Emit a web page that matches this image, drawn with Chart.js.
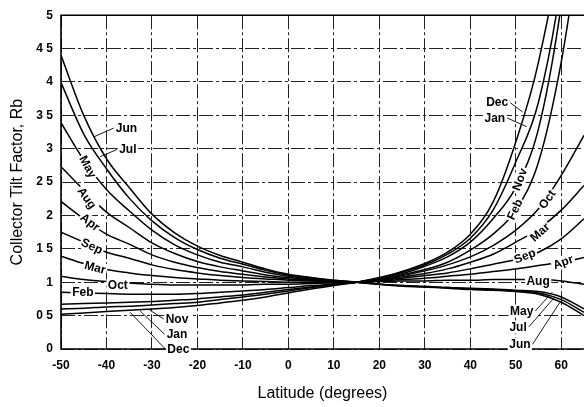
<!DOCTYPE html>
<html>
<head>
<meta charset="utf-8">
<script src="https://cdn.jsdelivr.net/npm/chart.js@4.4.1/dist/chart.umd.min.js"></script>
<style>
  html, body { margin: 0; padding: 0; background: #fff; }
  #wrap { width: 584px; height: 407px; }
</style>
</head>
<body>
<div id="wrap"><canvas id="tiltChart"></canvas></div>
<script>
// latitude grid the curves were read at (degrees)
var latitudes = [-50,-45,-40,-35,-30,-25,-20,-15,-10,-5,0,5,10,15,20,25,30,35,40,45,50,55,60,65];

// tilt factor Rb, one array per month
var rbJan = [0.60,0.61,0.63,0.64,0.66,0.68,0.70,0.74,0.78,0.82,0.87,0.92,0.96,1.00,1.06,1.15,1.26,1.42,1.66,2.08,2.80,3.70,5.50,8.50];
var rbFeb = [0.85,0.84,0.83,0.82,0.82,0.82,0.83,0.85,0.87,0.89,0.92,0.95,0.97,1.00,1.05,1.11,1.19,1.30,1.48,1.72,2.08,2.80,4.30,6.50];
var rbMar = [1.39,1.28,1.19,1.14,1.10,1.07,1.05,1.03,1.02,1.01,1.00,1.00,1.00,1.00,1.04,1.08,1.13,1.20,1.30,1.42,1.60,1.80,2.08,2.45];
var rbApr = [2.21,1.95,1.72,1.57,1.41,1.30,1.22,1.16,1.12,1.08,1.05,1.03,1.01,1.00,1.02,1.04,1.06,1.09,1.12,1.16,1.20,1.25,1.30,1.37];
var rbMay = [3.39,2.83,2.39,2.07,1.78,1.56,1.41,1.30,1.23,1.15,1.09,1.05,1.02,1.00,0.97,0.95,0.94,0.92,0.91,0.90,0.88,0.86,0.78,0.60];
var rbJun = [4.40,3.50,2.85,2.42,2.02,1.74,1.54,1.40,1.30,1.20,1.12,1.07,1.03,1.00,0.97,0.94,0.93,0.91,0.89,0.88,0.86,0.82,0.70,0.50];
var rbJul = [3.99,3.22,2.70,2.26,1.92,1.67,1.49,1.36,1.27,1.18,1.11,1.065,1.03,1.00,0.97,0.95,0.93,0.92,0.90,0.89,0.87,0.84,0.74,0.55];
var rbAug = [2.73,2.38,2.05,1.82,1.59,1.43,1.31,1.23,1.17,1.11,1.07,1.04,1.015,1.00,1.01,1.02,1.02,1.03,1.03,1.04,1.04,1.04,1.02,0.97];
var rbSep = [1.75,1.60,1.45,1.36,1.26,1.19,1.14,1.10,1.07,1.05,1.03,1.02,1.01,1.00,1.03,1.06,1.10,1.14,1.20,1.27,1.34,1.45,1.65,1.95];
var rbOct = [1.09,1.04,1.01,0.99,0.97,0.96,0.96,0.96,0.96,0.97,0.97,0.98,0.99,1.00,1.05,1.10,1.17,1.26,1.38,1.55,1.78,2.10,2.60,3.20];
var rbNov = [0.67,0.68,0.69,0.70,0.71,0.73,0.75,0.78,0.81,0.85,0.89,0.93,0.97,1.00,1.06,1.13,1.24,1.38,1.60,1.95,2.42,3.30,5.15,8.00];
var rbDec = [0.52,0.54,0.56,0.58,0.60,0.62,0.65,0.69,0.73,0.78,0.84,0.90,0.95,1.00,1.07,1.16,1.28,1.45,1.72,2.20,3.10,4.30,6.20,9.50];

var months = ['Jan','Feb','Mar','Apr','May','Jun','Jul','Aug','Sep','Oct','Nov','Dec'];
var rbByMonth = [rbJan, rbFeb, rbMar, rbApr, rbMay, rbJun, rbJul, rbAug, rbSep, rbOct, rbNov, rbDec];

var xTicks = [-50,-40,-30,-20,-10,0,10,20,30,40,50,60];
var yTickLabels = ['0','0 5','1','1 5','2','2 5','3','3 5','4','4 5','5'];

// month names written on / next to the curves (lat, Rb, rotation, optional leader target)
var curveLabels = [
  {text:'Jun', lat:-35.6, rb:3.31, angle:0,  to:[-42.7,3.18]},
  {text:'Jul', lat:-35.3, rb:2.99, angle:0,  to:[-41.4,2.88]},
  {text:'May', lat:-44.1, rb:2.73, angle:62},
  {text:'Aug', lat:-44.3, rb:2.26, angle:55},
  {text:'Apr', lat:-43.6, rb:1.90, angle:38},
  {text:'Sep', lat:-43.2, rb:1.54, angle:25},
  {text:'Mar', lat:-42.5, rb:1.22, angle:15},
  {text:'Oct', lat:-37.5, rb:0.95, angle:0},
  {text:'Feb', lat:-45.2, rb:0.85, angle:0},
  {text:'Nov', lat:-24.5, rb:0.45, angle:0,  to:[-30.4,0.58]},
  {text:'Jan', lat:-24.5, rb:0.22, angle:0,  to:[-32.6,0.57]},
  {text:'Dec', lat:-24.2, rb:0.00, angle:0,  to:[-34.8,0.55]},
  {text:'Dec', lat:45.9, rb:3.69, angle:0,   to:[51.5,3.55]},
  {text:'Jan', lat:45.4, rb:3.46, angle:0,   to:[52.4,3.33]},
  {text:'Nov', lat:50.9, rb:2.54, angle:-70},
  {text:'Feb', lat:49.8, rb:2.09, angle:-65},
  {text:'Oct', lat:56.9, rb:2.24, angle:-55},
  {text:'Mar', lat:55.3, rb:1.75, angle:-42},
  {text:'Sep', lat:52.0, rb:1.39, angle:-22},
  {text:'Apr', lat:60.4, rb:1.30, angle:-20},
  {text:'Aug', lat:54.9, rb:1.01, angle:0},
  {text:'May', lat:51.3, rb:0.57, angle:0,   to:[58.0,0.85]},
  {text:'Jul', lat:50.5, rb:0.33, angle:0,   to:[58.6,0.78]},
  {text:'Jun', lat:50.9, rb:0.07, angle:0,   to:[59.7,0.70]}
];

function toPoints(vals) {
  return latitudes.map(function(lat, i) { return {x: lat, y: vals[i]}; });
}

var datasets = months.map(function(m, i) {
  return {
    label: m,
    data: toPoints(rbByMonth[i]),
    borderColor: '#000',
    borderWidth: 1.5,
    pointRadius: 0,
    cubicInterpolationMode: 'monotone',
    fill: false
  };
});

// solid frame on left, top and bottom like the printed figure
var framePlugin = {
  id: 'frame',
  beforeDatasetsDraw: function(chart) {
    var a = chart.chartArea, ctx = chart.ctx;
    ctx.save();
    ctx.strokeStyle = '#000';
    ctx.lineWidth = 1.6;
    ctx.beginPath();
    ctx.moveTo(a.right, a.top);
    ctx.lineTo(a.left, a.top);
    ctx.lineTo(a.left, a.bottom);
    ctx.lineTo(a.right, a.bottom);
    ctx.stroke();
    ctx.restore();
  }
};

var monthTextPlugin = {
  id: 'monthText',
  afterDatasetsDraw: function(chart) {
    var ctx = chart.ctx, xs = chart.scales.x, ys = chart.scales.y;
    ctx.save();
    ctx.font = 'bold 12px "Liberation Sans Narrow", "Liberation Sans", sans-serif';
    ctx.textAlign = 'center';
    ctx.textBaseline = 'middle';
    ctx.strokeStyle = '#000';
    curveLabels.forEach(function(l) {
      var px = xs.getPixelForValue(l.lat), py = ys.getPixelForValue(l.rb);
      var w = ctx.measureText(l.text).width;
      if (l.to) {
        var tx = xs.getPixelForValue(l.to[0]), ty = ys.getPixelForValue(l.to[1]);
        var sx = tx < px ? px - w / 2 - 2 : px + w / 2 + 2;
        ctx.beginPath();
        ctx.lineWidth = 0.9;
        ctx.moveTo(sx, py);
        ctx.lineTo(tx, ty);
        ctx.stroke();
      }
      ctx.save();
      ctx.translate(px, py);
      ctx.rotate(l.angle * Math.PI / 180);
      ctx.fillStyle = '#fff';
      ctx.fillRect(-w / 2 - 1.5, -6.5, w + 3, 13);
      ctx.fillStyle = '#000';
      ctx.fillText(l.text, 0, 0.5);
      ctx.restore();
    });
    ctx.restore();
  }
};

var tickFont = {family: '"Liberation Sans", Arial, sans-serif', size: 12, weight: 'bold'};
var titleFont = {family: '"Liberation Sans", Arial, sans-serif', size: 16};

new Chart(document.getElementById('tiltChart'), {
  type: 'line',
  data: {datasets: datasets},
  options: {
    responsive: true,
    maintainAspectRatio: false,
    animation: false,
    layout: {padding: {top: 14, left: 0, right: 0, bottom: 0}},
    plugins: {legend: {display: false}, tooltip: {enabled: false}},
    scales: {
      x: {
        type: 'linear',
        min: -50,
        max: 65,
        afterBuildTicks: function(axis) { axis.ticks = xTicks.map(function(v) { return {value: v}; }); },
        afterFit: function(axis) { axis.height = 58; },
        grid: {color: '#222', lineWidth: 1, drawTicks: false},
        border: {display: false, dash: [14, 3, 3, 3]},
        ticks: {color: '#000', font: tickFont, padding: 9, maxRotation: 0,
          callback: function(v) { return String(v); }},
        title: {display: true, text: 'Latitude (degrees)', color: '#000', font: titleFont,
          padding: {top: 0, bottom: 4}}
      },
      y: {
        min: 0,
        max: 5,
        afterFit: function(axis) { axis.width = 61; },
        grid: {color: '#222', lineWidth: 1, drawTicks: false},
        border: {display: false, dash: [14, 3, 3, 3]},
        ticks: {color: '#000', font: tickFont, padding: 8, stepSize: 0.5,
          callback: function(v, i) { return yTickLabels[i]; }},
        title: {display: true, text: 'Collector Tilt Factor, Rb', color: '#000', font: titleFont,
          padding: {top: 8, bottom: 0}}
      }
    }
  },
  plugins: [framePlugin, monthTextPlugin]
});
</script>
</body>
</html>
